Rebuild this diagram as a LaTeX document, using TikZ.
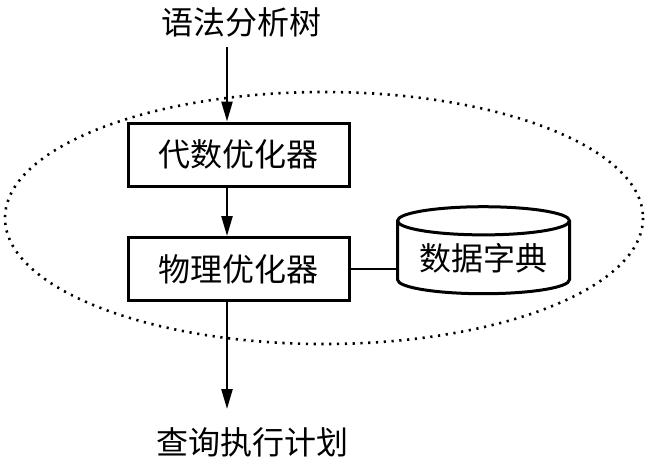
\documentclass[tikz,border=0pt]{standalone}
\usepackage{fontspec}
\setmainfont{Noto Sans CJK SC}
\usetikzlibrary{arrows.meta}
\usetikzlibrary{shapes.geometric}
\tikzset{
    tnode/.style = {align=center, inner sep=0pt, text centered, font=\fontsize{16}{16}\selectfont},
    optbox/.style = {tnode, rectangle, draw=black, line width=1.5pt, minimum width=110.5pt, minimum height=31.5pt},
    dictdb/.style = {tnode, cylinder, shape border rotate=90, draw=black, line width=1.5pt, minimum width=86pt, minimum height=43.5pt, aspect=0.22},
    flow/.style = {-{Triangle[length=10pt,width=5.5pt]}, line width=1.2pt},
    plain/.style = {-, line width=0.8pt},
    ring/.style = {line width=1.3pt, dash pattern=on 1.1pt off 2.8pt}
}

\begin{document}
\begin{tikzpicture}[x=0.5pt, y=-0.5pt]
    \useasboundingbox (0,0) rectangle (648,463);
    % optimiser area
    \draw [ring] (324,218) ellipse [x radius=319, y radius=126];
    \coordinate (spine) at (227,0);
    \node [tnode] (parse) at (241,22) {语法分析树};
    \node [optbox] (algebra) at (238.5,154.5) {代数优化器};
    \node [optbox] (physical) at (238.5,269) {物理优化器};
    \node [dictdb] (dict) at (483.5,258) {数据字典};
    \node [tnode] (plan) at (252,442) {查询执行计划};
    \coordinate (planin) at (227,409);
    % connectors
    \draw [flow] (parse.south -| spine) ++(0,10) -- (algebra.north -| spine);
    \draw [flow] (algebra.south -| spine) -- (physical.north -| spine);
    \draw [flow] (physical.south -| spine) -- (planin);
    \draw [plain] (physical.east) -- (physical.east -| dict.west);
\end{tikzpicture}
\end{document}
